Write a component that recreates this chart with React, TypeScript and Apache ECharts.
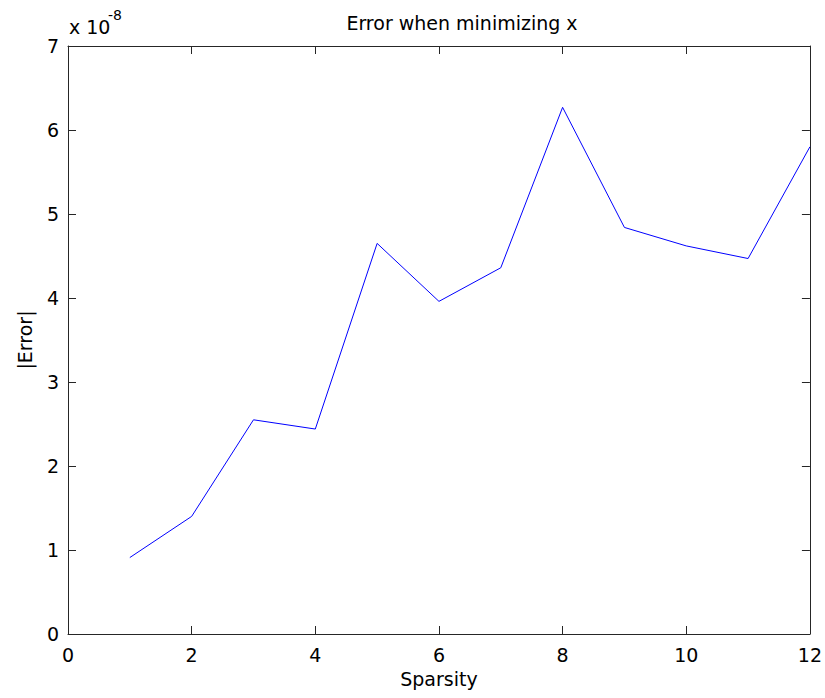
import React, { useEffect, useRef } from "react";
import * as echarts from "echarts";

const sparsity = [1, 2, 3, 4, 5, 6, 7, 8, 9, 10, 11, 12];
// |Error| values in units of 1e-8
const errorValues = [0.91, 1.4, 2.55, 2.44, 4.65, 3.96, 4.36, 6.27, 4.84, 4.62, 4.47, 5.8];
const titleText = "Error when minimizing x";
const xName = "Sparsity";
const yName = "|Error|";
const exponentBase = "x 10";
const exponentPower = "-8";

const FONT = "DejaVu Sans";
const AX = "#262626";

export default function App() {
  const ref = useRef<HTMLDivElement>(null);
  useEffect(() => {
    if (!ref.current) return;
    const chart = echarts.init(ref.current, undefined, { renderer: "svg" });
    const tickCommon = {
      axisLine: { show: true, onZero: false, lineStyle: { color: AX, width: 1 } },
      axisTick: { show: true, inside: true, length: 8, lineStyle: { color: AX } },
      splitLine: { show: false },
    };
    chart.setOption({
      animation: false,
      backgroundColor: "#fff",
      title: {
        text: titleText,
        left: 457,
        top: 8,
        textAlign: "center",
        textStyle: { fontFamily: FONT, fontSize: 19, fontWeight: "normal", color: "#000" },
      },
      grid: { left: 68, right: 13, top: 46, bottom: 64, containLabel: false },
      xAxis: [
        {
          type: "value",
          min: 0,
          max: 12,
          interval: 2,
          position: "bottom",
          name: xName,
          nameLocation: "middle",
          nameGap: 35,
          nameTextStyle: { fontFamily: FONT, fontSize: 19, color: "#000" },
          axisLabel: { fontFamily: FONT, fontSize: 19, color: "#000", margin: 11 },
          ...tickCommon,
        },
        {
          type: "value",
          min: 0,
          max: 12,
          interval: 2,
          position: "top",
          axisLabel: { show: false },
          ...tickCommon,
        },
      ],
      yAxis: [
        {
          type: "value",
          min: 0,
          max: 7,
          interval: 1,
          position: "left",
          name: yName,
          nameLocation: "middle",
          nameGap: 34,
          nameRotate: 90,
          nameTextStyle: { fontFamily: FONT, fontSize: 19, color: "#000" },
          axisLabel: { fontFamily: FONT, fontSize: 19, color: "#000", margin: 9 },
          ...tickCommon,
        },
        {
          type: "value",
          min: 0,
          max: 7,
          interval: 1,
          position: "right",
          axisLabel: { show: false },
          ...tickCommon,
        },
      ],
      graphic: [
        {
          type: "text",
          left: 69,
          top: 17,
          style: { text: exponentBase, fontFamily: FONT, fontSize: 19, fill: "#000" },
        },
        {
          type: "text",
          left: 108,
          top: 8,
          style: { text: exponentPower, fontFamily: FONT, fontSize: 14, fill: "#000" },
        },
      ],
      series: [
        {
          type: "line",
          xAxisIndex: 0,
          yAxisIndex: 0,
          data: sparsity.map((s, i) => [s, errorValues[i]]),
          symbol: "none",
          lineStyle: { color: "#0000ff", width: 1 },
        },
      ],
    });
    return () => chart.dispose();
  }, []);
  return (
    <div
      ref={ref}
      style={{ position: "fixed", left: 0, top: 0, width: 825, height: 698, background: "#fff" }}
    />
  );
}
